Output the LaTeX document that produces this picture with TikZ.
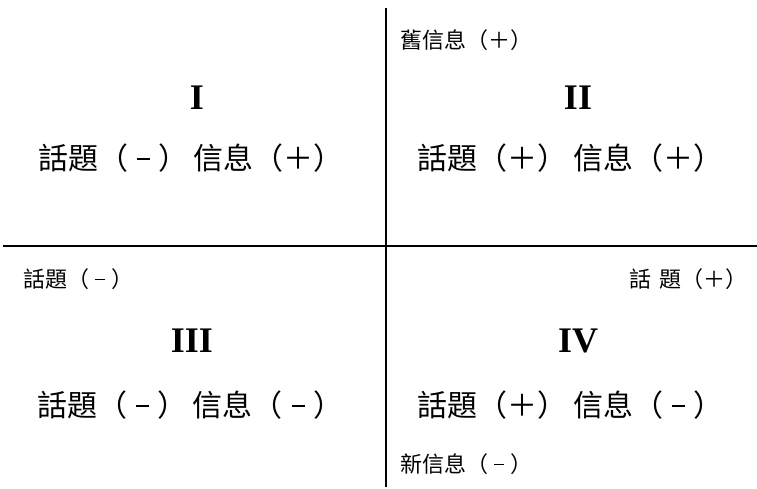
\documentclass[tikz,border=0pt]{standalone}
\usepackage{fontspec}
\newfontfamily\cjk{Noto Sans CJK TC}
\newfontfamily\tms{Liberation Serif}
\newcommand{\mnb}{\makebox[30pt][c]{\rule[9.5pt]{13pt}{1.6pt}}}
\newcommand{\mns}{\makebox[22pt][c]{\rule[7pt]{9.5pt}{1.3pt}}}
\begin{document}
\begin{tikzpicture}[x=1pt,y=-1pt,
  axis/.style={line width=1.6pt,black},
  big/.style={font=\cjk\fontsize{30}{32}\selectfont,inner sep=0pt},
  small/.style={font=\cjk\fontsize{22}{24}\selectfont,inner sep=0pt},
  roman/.style={font=\tms\bfseries\fontsize{36}{40}\selectfont,inner sep=0pt}]
\useasboundingbox (0,0) rectangle (757,489);
\coordinate (vt) at (386,8);
\coordinate (vb) at (386,487);
\coordinate (hl) at (3,246);
\coordinate (hr) at (757,246);
\draw[axis] (vt) -- (vb);
\draw[axis] (hl) -- (hr);
\node[roman] (n1) at (197,98) {I};
\node[roman] (n2) at (578,98) {II};
\node[roman] (n3) at (192,341) {III};
\node[roman] (n4) at (578,341) {IV};
\node[big] (t1) at (191,158) {話題（\mnb）\hspace{6pt}信息（＋）};
\node[big] (t2) at (570,158) {話題（＋）\hspace{6pt}信息（＋）};
\node[big] (t3) at (190,405) {話題（\mnb）\hspace{6pt}信息（\mnb）};
\node[big] (t4) at (570,405) {話題（＋）\hspace{6pt}信息（\mnb）};
\node[small,anchor=west] (s1) at (400,40) {舊信息（＋）};
\node[small,anchor=west] (s2) at (23,279) {話題（\mns）};
\node[small,anchor=east] (s3) at (748,279) {話\hspace{8pt}題（＋）};
\node[small,anchor=west] (s4) at (400,464) {新信息（\mns）};
\end{tikzpicture}
\end{document}
